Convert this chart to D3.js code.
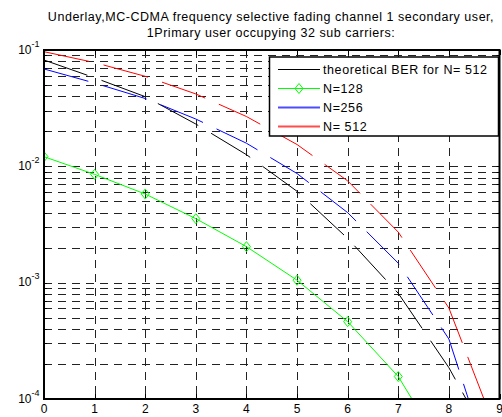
<!DOCTYPE html>
<html>
<head>
<meta charset="utf-8">
<script src="https://cdn.jsdelivr.net/npm/d3@7"></script>
<style>
  body { margin: 0; background: #fff; }
  text { font-family: "Liberation Sans", Arial, sans-serif; fill: #000; }
</style>
</head>
<body>
<svg id="chart"></svg>
<script>
// values (SNR on x, BER on y)
var snr = [0, 1, 2, 3, 4, 5, 6, 7, 8, 9];
var berTheory512 = [0.082, 0.0577, 0.0397, 0.0231, 0.0126, 0.0061, 0.0024, 0.00081, 0.000186, 0.00003];
var berN128 = [0.0121, 0.00853, 0.00578, 0.00355, 0.00204, 0.00105, 0.000462, 0.000156, 0.00003];
var berN256 = [0.0687, 0.052, 0.0383, 0.0255, 0.0158, 0.00867, 0.004, 0.00147, 0.000328, 0.000015];
var berN512 = [0.0967, 0.078, 0.0594, 0.0419, 0.0268, 0.0154, 0.0075, 0.00272, 0.000605, 0.000045];

var xTicks = [0, 1, 2, 3, 4, 5, 6, 7, 8, 9];
var yTicks = [1e-4, 1e-3, 1e-2, 1e-1];
var titleLines = ["Underlay,MC-CDMA frequency selective fading channel 1 secondary user,",
                  "1Primary user occupying 32 sub carriers:"];
var legendLabels = ["theoretical BER for N= 512", "N=128", "N=256", "N= 512"];

var width = 502, height = 417;
var plotL = 44, plotR = 499.5, plotT = 50, plotB = 399;

var svg = d3.select("#chart").attr("width", width).attr("height", height);

var x = d3.scaleLinear().domain([0, 9]).range([plotL, plotR]);
var y = d3.scaleLog().domain([1e-4, 1e-1]).range([plotB, plotT]);

svg.append("defs").append("clipPath").attr("id", "plotclip")
  .append("rect")
  .attr("x", plotL).attr("y", plotT)
  .attr("width", plotR - plotL).attr("height", plotB - plotT);

// minor + major log grid values
var yGrid = [];
[1e-4, 1e-3, 1e-2].forEach(function(d) {
  for (var k = 1; k <= 9; k++) {
    var v = d * k;
    if (v > 1.01e-4 && v < 0.99e-1) yGrid.push(v);
  }
});

var snap = function(v) { return Math.round(v) + 0.5; };

var grid = svg.append("g").attr("stroke", "#222").attr("stroke-width", 1)
  .attr("stroke-dasharray", "8,6").attr("fill", "none");

grid.selectAll("line.h").data(yGrid).enter().append("line")
  .attr("class", "h")
  .attr("x1", plotL).attr("x2", plotR)
  .attr("y1", function(d) { return snap(y(d)); })
  .attr("y2", function(d) { return snap(y(d)); });

grid.selectAll("line.v").data(xTicks.slice(1, -1)).enter().append("line")
  .attr("class", "v")
  .attr("y1", plotT).attr("y2", plotB)
  .attr("x1", function(d) { return snap(x(d)); })
  .attr("x2", function(d) { return snap(x(d)); });

// ticks on all four sides, pointing inward
var ticks = svg.append("g").attr("stroke", "#000").attr("stroke-width", 1);
xTicks.forEach(function(d) {
  var px = snap(x(d));
  ticks.append("line").attr("x1", px).attr("x2", px).attr("y1", plotB).attr("y2", plotB - 5);
  ticks.append("line").attr("x1", px).attr("x2", px).attr("y1", plotT).attr("y2", plotT + 5);
});
yGrid.forEach(function(d) {
  var py = snap(y(d));
  ticks.append("line").attr("x1", plotL).attr("x2", plotL + 3).attr("y1", py).attr("y2", py);
  ticks.append("line").attr("x1", plotR).attr("x2", plotR - 3).attr("y1", py).attr("y2", py);
});

// curves
var plot = svg.append("g").attr("clip-path", "url(#plotclip)");

var line = d3.line()
  .x(function(d, i) { return x(snr[i]); })
  .y(function(d) { return y(d); });

var series = [
  { values: berTheory512, color: "#000000", dash: "46,15" },
  { values: berN256, color: "#0000ff", dash: "46,15" },
  { values: berN512, color: "#ff0000", dash: "46,15" },
  { values: berN128, color: "#00ff00", dash: null }
];

series.forEach(function(s) {
  plot.append("path")
    .datum(s.values)
    .attr("fill", "none")
    .attr("stroke", s.color)
    .attr("stroke-width", 1)
    .attr("stroke-dasharray", s.dash)
    .attr("d", line);
});

var diamond = function(cx, cy) {
  return "M" + cx + "," + (cy - 5) + "L" + (cx + 4) + "," + cy + "L" + cx + "," + (cy + 5) + "L" + (cx - 4) + "," + cy + "Z";
};

plot.selectAll("path.marker").data(berN128).enter().append("path")
  .attr("class", "marker")
  .attr("fill", "none")
  .attr("stroke", "#00ff00")
  .attr("stroke-width", 1)
  .attr("d", function(d, i) { return diamond(x(snr[i]), y(d)); });

// frame
svg.append("rect")
  .attr("x", plotL).attr("y", plotT)
  .attr("width", plotR - plotL).attr("height", plotB - plotT)
  .attr("fill", "none").attr("stroke", "#000").attr("stroke-width", 2);

// x tick labels
svg.append("g").selectAll("text").data(xTicks).enter().append("text")
  .attr("x", function(d) { return x(d); })
  .attr("y", 413)
  .attr("text-anchor", "middle")
  .attr("font-size", 12)
  .text(function(d) { return d; });

// y tick labels as 10^n
var yl = svg.append("g").selectAll("text").data(yTicks).enter().append("text")
  .attr("x", 39.5)
  .attr("y", function(d) { return y(d) + 3.5; })
  .attr("text-anchor", "end")
  .attr("font-size", 12);
yl.append("tspan").text("10");
yl.append("tspan")
  .attr("dy", -7)
  .attr("font-size", 9)
  .text(function(d) { return Math.round(Math.log10(d)); });

// title
svg.append("g").selectAll("text").data(titleLines).enter().append("text")
  .attr("x", 271)
  .attr("y", function(d, i) { return 21 + i * 16; })
  .attr("text-anchor", "middle")
  .attr("font-size", 12.5)
  .attr("letter-spacing", 0.53)
  .text(function(d) { return d; });

// legend
var lg = svg.append("g");
lg.append("rect")
  .attr("x", 269.5).attr("y", 57)
  .attr("width", 229).attr("height", 79)
  .attr("fill", "#fff").attr("stroke", "#000").attr("stroke-width", 1.5);

var legendColors = ["#000000", "#00ff00", "#4d4dff", "#ff4d4d"];
var legendWidths = [1, 1, 1.8, 1.8];
var rowY = d3.scaleLinear().domain([0, 3]).range([69, 125.5]);

legendLabels.forEach(function(label, i) {
  var ry = Math.round(rowY(i)) + 0.5;
  lg.append("line")
    .attr("x1", 278).attr("x2", 320)
    .attr("y1", ry).attr("y2", ry)
    .attr("stroke", legendColors[i]).attr("stroke-width", legendWidths[i]);
  if (i === 1) {
    lg.append("path").attr("fill", "none").attr("stroke", "#00ff00")
      .attr("d", diamond(299, ry));
  }
  lg.append("text")
    .attr("x", 323).attr("y", ry)
    .attr("dy", "0.36em")
    .attr("font-size", 12.5)
    .attr("letter-spacing", 0.6)
    .text(label);
});
</script>
</body>
</html>
